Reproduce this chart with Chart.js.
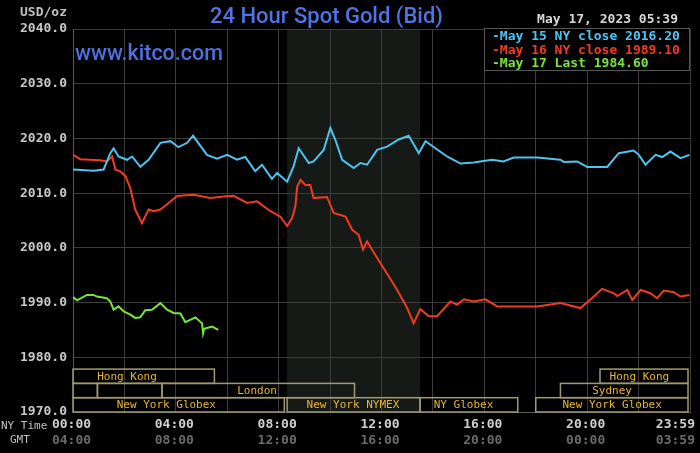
<!DOCTYPE html>
<html>
<head>
<meta charset="utf-8">
<script src="https://cdn.jsdelivr.net/npm/chart.js@4.4.0/dist/chart.umd.min.js"></script>
<style>
  html, body { margin: 0; padding: 0; background: #000; }
  #wrap { width: 700px; height: 453px; }
</style>
</head>
<body>
<div id="wrap"><canvas id="goldChart"></canvas></div>
<script>
// hours after 00:00 New York time, prices in USD/oz
const may15Hours = [0, 0.8, 1.19, 1.45, 1.58, 1.77, 2.1, 2.3, 2.62, 2.94, 3.4, 3.79, 4.1, 4.44, 4.67, 4.82,
  5.21, 5.6, 6.0, 6.38, 6.7, 7.09, 7.35, 7.74, 7.94, 8.33, 8.58, 8.78, 9.17, 9.36, 9.75, 10.01, 10.2,
  10.47, 10.92, 11.18, 11.44, 11.83, 12.22, 12.67, 13.06, 13.45, 13.71, 14.1, 14.55, 15.07, 15.59, 16.3,
  16.75, 17.14, 18.05, 18.96, 19.09, 19.61, 20.0, 20.78, 21.23, 21.81, 22.01, 22.27, 22.66, 22.92, 23.24,
  23.63, 23.98];
const may15Prices = [2014.3, 2014.1, 2014.3, 2017.3, 2018.2, 2016.7, 2016.1, 2016.7, 2014.8, 2016.1, 2019.2, 2019.5, 2018.4, 2019.2, 2020.5, 2019.5,
  2017.0, 2016.3, 2017.0, 2016.1, 2016.6, 2014.0, 2015.2, 2012.6, 2013.7, 2012.1, 2014.9, 2018.2, 2015.5, 2015.8, 2017.9, 2021.9, 2019.8,
  2016.1, 2014.6, 2015.5, 2015.2, 2017.9, 2018.5, 2019.8, 2020.5, 2017.3, 2019.5, 2018.2, 2016.7, 2015.4, 2015.6, 2016.1,
  2015.8, 2016.5, 2016.5, 2016.1, 2015.7, 2015.8, 2014.8, 2014.8, 2017.3, 2017.8, 2017.0, 2015.2, 2017.0, 2016.6, 2017.6,
  2016.4, 2017.0];

const may16Hours = [0, 0.28, 1.06, 1.32, 1.52, 1.65, 1.84, 2.04, 2.23, 2.42, 2.68, 2.94, 3.14, 3.4, 3.72, 4.05,
  4.69, 5.34, 5.86, 6.25, 6.77, 7.16, 7.68, 8.07, 8.33, 8.52, 8.65, 8.72, 8.85, 9.04, 9.23, 9.36, 9.88,
  10.14, 10.6, 10.86, 11.11, 11.28, 11.44, 11.63, 11.96, 12.28, 12.61, 13.0, 13.25, 13.51, 13.84, 14.16,
  14.68, 14.94, 15.2, 15.59, 16.04, 16.5, 18.05, 18.96, 19.74, 20.26, 20.58, 21.04, 21.17, 21.56, 21.75,
  22.08, 22.46, 22.72, 22.98, 23.37, 23.63, 23.98];
const may16Prices = [2017.0, 2016.2, 2016.0, 2015.8, 2016.7, 2014.3, 2014.0, 2013.1, 2010.9, 2007.0, 2004.5, 2007.0, 2006.7, 2007.0, 2008.2, 2009.5,
  2009.7, 2009.1, 2009.4, 2009.5, 2008.2, 2008.5, 2006.7, 2005.7, 2004.0, 2005.4, 2007.6, 2011.2, 2012.4, 2011.5, 2011.5, 2009.1, 2009.3,
  2006.4, 2005.7, 2003.3, 2002.4, 1999.7, 2001.2, 1999.7, 1997.2, 1994.8, 1992.3, 1989.0, 1986.2, 1988.8, 1987.5, 1987.5,
  1990.2, 1989.6, 1990.6, 1990.2, 1990.6, 1989.3, 1989.3, 1989.9, 1989.0, 1991.1, 1992.5, 1991.7, 1991.2, 1992.3, 1990.5,
  1992.3, 1991.7, 1990.8, 1992.2, 1991.9, 1991.1, 1991.4];

const may17Hours = [0, 0.16, 0.54, 0.8, 0.93, 1.32, 1.45, 1.58, 1.77, 1.97, 2.23, 2.42, 2.62, 2.81, 3.07, 3.4,
  3.66, 3.91, 4.18, 4.37, 4.76, 5.02, 5.06, 5.1, 5.41, 5.65];
const may17Prices = [1991.0, 1990.4, 1991.4, 1991.4, 1991.1, 1990.8, 1990.2, 1988.7, 1989.3, 1988.4, 1987.8, 1987.2, 1987.3, 1988.6, 1988.7, 1989.9,
  1988.7, 1988.1, 1988.0, 1986.4, 1987.3, 1986.2, 1984.4, 1985.2, 1985.6, 1985.0];

const seriesLabels = ['May 15 NY close 2016.20', 'May 16 NY close 1989.10', 'May 17 Last 1984.60'];
const seriesColors = ['#4fc3f0', '#f03a24', '#78e43c'];

const timeHours = [0, 4, 8, 12, 16, 20, 24];
const nyTimeLabels = ['00:00', '04:00', '08:00', '12:00', '16:00', '20:00', '23:59'];
const gmtLabels = ['04:00', '08:00', '12:00', '16:00', '20:00', '00:00', '03:59'];

// shaded NYMEX trading hours
const nymexHours = [8.33, 13.5];

// market sessions: name, start hour, end hour, row (0 = top), label hour
const sessions = [
  ['Hong Kong', 0, 5.5, 0, 2.1],
  ['Hong Kong', 20.5, 24, 0, 22.03],
  ['', 0, 0.95, 1, 0],
  ['', 0.95, 3.46, 1, 0],
  ['London', 3.46, 10.95, 1, 7.16],
  ['Sydney', 18.96, 24, 1, 20.97],
  ['New York Globex', 0, 8.22, 2, 3.63],
  ['New York NYMEX', 8.33, 13.5, 2, 10.89],
  ['NY Globex', 13.5, 17.3, 2, 15.19],
  ['New York Globex', 18.0, 24, 2, 20.97]
];

const mono = '"DejaVu Sans Mono", monospace';
const sans = 'Roboto, "Liberation Sans", Arial, sans-serif';

function toPoints(hours, prices) {
  return hours.map((h, i) => ({ x: h, y: prices[i] }));
}

// pick a font size so the text spans the given width
function fitFont(ctx, text, weight, width) {
  ctx.font = weight + ' 20px ' + sans;
  const size = 20 * width / ctx.measureText(text).width;
  ctx.font = weight + ' ' + size.toFixed(2) + 'px ' + sans;
}

const decor = {
  id: 'kitcoDecor',
  beforeDraw(chart) {
    const { ctx, chartArea: a, scales: { x } } = chart;
    ctx.save();
    ctx.fillStyle = '#000';
    ctx.fillRect(0, 0, chart.width, chart.height);
    const x0 = x.getPixelForValue(nymexHours[0]);
    const x1 = x.getPixelForValue(nymexHours[1]);
    ctx.fillStyle = '#161a16';
    ctx.fillRect(x0, a.top, x1 - x0, a.bottom - a.top);
    ctx.restore();
  },
  afterDraw(chart) {
    const { ctx, chartArea: a, scales: { x } } = chart;
    ctx.save();

    // market session boxes
    const rowH = 14.3;
    ctx.lineWidth = 1.5;
    ctx.strokeStyle = '#a09a72';
    ctx.fillStyle = '#e8b53a';
    ctx.font = '11px ' + mono;
    ctx.textAlign = 'center';
    ctx.textBaseline = 'middle';
    sessions.forEach(([name, start, end, row, lab]) => {
      const top = a.bottom - (3 - row) * rowH;
      const xs = x.getPixelForValue(start);
      const xe = Math.min(x.getPixelForValue(end), a.right - 2);
      ctx.strokeRect(xs, top, xe - xs, rowH);
      if (name) ctx.fillText(name, x.getPixelForValue(lab), top + rowH / 2 + 0.5);
    });

    // legend box
    const lx = a.right - 206, ly = a.top - 1;
    ctx.fillStyle = '#000';
    ctx.fillRect(lx, ly, 205, 42);
    ctx.lineWidth = 1;
    ctx.strokeStyle = '#555';
    ctx.strokeRect(lx + 0.5, ly + 0.5, 205, 42);
    ctx.font = 'bold 13px ' + mono;
    ctx.textAlign = 'left';
    seriesLabels.forEach((lbl, i) => {
      ctx.fillStyle = seriesColors[i];
      ctx.fillText('-' + lbl, lx + 8, a.top + 7.5 + i * 13.8);
    });

    // titles
    ctx.textBaseline = 'alphabetic';
    ctx.fillStyle = '#5073e6';
    ctx.textAlign = 'left';
    fitFont(ctx, '24 Hour Spot Gold (Bid)', 500, 233);
    ctx.fillText('24 Hour Spot Gold (Bid)', 210, 23);
    ctx.fillStyle = '#4d70e2';
    fitFont(ctx, 'www.kitco.com', 500, 148);
    ctx.fillText('www.kitco.com', 75, 59.5);

    ctx.textBaseline = 'middle';
    ctx.font = 'bold 13px ' + mono;
    ctx.fillStyle = '#c0c0c0';
    ctx.textAlign = 'right';
    ctx.fillText('USD/oz', 67, 13);
    ctx.fillStyle = '#d8d8d8';
    ctx.fillText('May 17, 2023 05:39', 678, 19.5);

    // time axis rows
    ctx.font = '11px ' + mono;
    ctx.fillStyle = '#c0c0c0';
    ctx.textAlign = 'left';
    ctx.fillText('NY Time', 1, 426.5);
    ctx.fillText('GMT', 10, 440.5);
    ctx.font = 'bold 13px ' + mono;
    timeHours.forEach((h, i) => {
      let px = x.getPixelForValue(h) - 1.5;
      ctx.textAlign = 'center';
      if (i === timeHours.length - 1) { ctx.textAlign = 'right'; px = 695; }
      ctx.fillStyle = '#d0d0d0';
      ctx.fillText(nyTimeLabels[i], px, 425);
      ctx.fillStyle = '#6a6a6a';
      ctx.fillText(gmtLabels[i], px, 440.5);
    });
    ctx.restore();
  }
};

const ctxGold = document.getElementById('goldChart');
const goldChart = new Chart(ctxGold, {
  type: 'line',
  data: {
    datasets: [
      { label: seriesLabels[0], data: toPoints(may15Hours, may15Prices), borderColor: seriesColors[0] },
      { label: seriesLabels[1], data: toPoints(may16Hours, may16Prices), borderColor: seriesColors[1] },
      { label: seriesLabels[2], data: toPoints(may17Hours, may17Prices), borderColor: seriesColors[2] }
    ]
  },
  options: {
    responsive: true,
    maintainAspectRatio: false,
    animation: false,
    elements: {
      line: { borderWidth: 2, tension: 0, fill: false },
      point: { radius: 0 }
    },
    layout: { padding: { top: 29, right: 10, left: 0, bottom: 0 } },
    scales: {
      x: {
        type: 'linear',
        min: 0,
        max: 24,
        ticks: { stepSize: 2, display: false },
        grid: { color: '#3c3c3c', drawTicks: false },
        border: { color: '#5a5a5a' },
        afterFit(scale) { scale.height = 41; }
      },
      y: {
        min: 1970,
        max: 2040,
        ticks: {
          stepSize: 10,
          padding: 6,
          color: '#c8c8c8',
          font: { family: mono, size: 13, weight: 'bold' },
          callback: v => v.toFixed(1)
        },
        grid: { color: '#3c3c3c', drawTicks: false },
        border: { color: '#5a5a5a' },
        afterFit(scale) { scale.width = 73; }
      }
    },
    plugins: {
      legend: { display: false },
      tooltip: { enabled: false }
    }
  },
  plugins: [decor]
});
</script>
</body>
</html>
